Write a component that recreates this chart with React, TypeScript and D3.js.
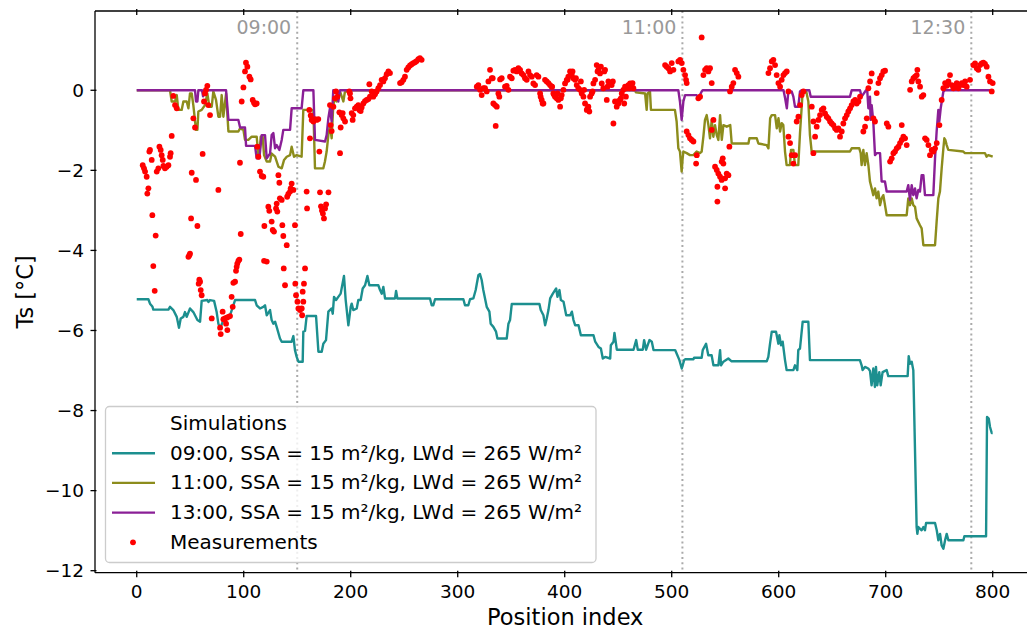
import React from 'react';
import * as d3 from 'd3';

// Axis ticks and reference times
const xTicks = [0, 100, 200, 300, 400, 500, 600, 700, 800];
const yTicks = [0, -2, -4, -6, -8, -10, -12];
const timeMarkers: { idx: number; label: string }[] = [
  { idx: 150, label: '09:00' },
  { idx: 510, label: '11:00' },
  { idx: 780, label: '12:30' },
];

const legendTitle = 'Simulations';
const legendLabels = [
  '09:00, SSA = 15 m²/kg, LWd = 265 W/m²',
  '11:00, SSA = 15 m²/kg, LWd = 265 W/m²',
  '13:00, SSA = 15 m²/kg, LWd = 265 W/m²',
];
const measurementLabel = 'Measurements';

// Simulated surface temperature, [position index, Ts °C]
const sim0900: [number, number][] = [
  [0,-5.22],[10.9,-5.22],[12.4,-5.33],[14.6,-5.4],[15.5,-5.48],[29.6,-5.48],[31.1,-5.41],[34.2,-5.49],[37.4,-5.66],[39.5,-5.93],[41.1,-5.7],[43.6,-5.66],[45.1,-5.54],[46.7,-5.66],[49.8,-5.45],[52.9,-5.54],[56.7,-5.74],[59.2,-5.78],[60.7,-5.26],[66,-5.24],[67,-5.29],[68.5,-5.24],[72.3,-5.26],[74.7,-5.54],[76.3,-5.83],[77.9,-5.95],[81,-5.74],[84.1,-5.67],[87.2,-5.62],[91.9,-5.24],[110.6,-5.24],[112.1,-5.37],[115.2,-5.45],[118.3,-5.41],[119.9,-5.37],[121.5,-5.62],[124.6,-5.49],[126.1,-5.74],[127.7,-5.83],[129.3,-5.78],[130.8,-5.91],[133.9,-6.2],[135.5,-6.28],[144.8,-6.28],[146.4,-6.14],[147.9,-6.49],[149.5,-6.66],[151.1,-6.78],[155.1,-6.78],[155.7,-6.03],[157.3,-6.01],[158.8,-5.64],[167.6,-5.64],[169.8,-6.53],[172.9,-6.53],[174.4,-6.33],[176.9,-6.24],[179.1,-5.53],[182.2,-5.45],[183.2,-5.58],[184.4,-5.16],[186.3,-5.24],[188.4,-5.16],[190.6,-5.08],[193.7,-4.64],[195.3,-5.24],[197.8,-5.87],[200,-5.41],[200.9,-5.33],[202.4,-5.49],[205.6,-5.45],[207.1,-5.24],[209.3,-5.24],[211.2,-4.95],[213.4,-4.87],[215.6,-4.64],[217.4,-4.87],[225.8,-4.87],[227.4,-4.99],[229,-5.08],[230.5,-4.91],[232.1,-5.2],[241.4,-5.2],[242.4,-5.01],[243.6,-5.2],[274.1,-5.2],[275.7,-5.37],[277.2,-5.37],[278.8,-5.22],[305.3,-5.22],[306.8,-5.37],[309.9,-5.37],[311.5,-5.22],[314.6,-5.2],[316.8,-4.99],[319.3,-4.62],[320.8,-4.59],[322.4,-4.74],[323.9,-4.99],[327.1,-5.41],[329.6,-5.53],[330.8,-5.83],[333.3,-5.91],[335.8,-6.03],[337.1,-6.2],[345.8,-6.2],[347.4,-5.83],[348.9,-5.74],[350.5,-5.34],[376.4,-5.34],[377.6,-5.49],[380.1,-5.62],[381.7,-5.87],[383.2,-5.7],[384.8,-5.49],[386.4,-5.2],[388.9,-5.08],[392,-4.95],[393.2,-5.16],[395.1,-4.99],[396.4,-5.24],[398.9,-5.28],[401.4,-5.62],[405.1,-5.62],[406.7,-5.53],[408.2,-5.74],[409.8,-5.87],[412.9,-5.87],[415.1,-6.12],[426.9,-6.12],[428.5,-6.28],[431.6,-6.41],[433.8,-6.45],[435.6,-6.7],[437.8,-6.66],[442.5,-6.7],[443.1,-6.37],[445.6,-6.28],[446.5,-6.06],[448.7,-6.48],[464.3,-6.48],[466.8,-6.24],[468.3,-6.48],[473,-6.48],[474.2,-6.24],[476.1,-6.48],[479.2,-6.24],[481.4,-6.28],[483,-6.49],[503.2,-6.49],[504.7,-6.58],[507.2,-6.74],[509.4,-6.95],[511.6,-6.74],[512.5,-6.72],[520.3,-6.72],[520.9,-6.68],[528,-6.68],[529,-6.49],[532.1,-6.33],[534.2,-6.62],[537.3,-6.62],[539,-6.87],[543.6,-6.87],[545.2,-6.49],[546.1,-6.87],[548.3,-6.78],[552.9,-6.7],[556,-6.77],[588.8,-6.77],[590.3,-6.66],[591.9,-6.33],[593.5,-6.03],[597.5,-6.03],[599.7,-6.33],[600.6,-6.12],[602.2,-6.37],[603.7,-6.28],[605.9,-6.74],[607.4,-6.99],[613.7,-6.99],[615.2,-6.87],[617.4,-6.99],[618.3,-6.49],[619.9,-6.45],[622.4,-5.78],[627.7,-5.78],[629.2,-6.74],[675.9,-6.74],[677.5,-6.87],[678.4,-6.99],[680.6,-6.91],[683.7,-6.95],[685.3,-7.01],[686.8,-7.37],[688.4,-6.95],[689.9,-7.41],[690.9,-6.91],[692.1,-7.37],[694,-7.04],[695.3,-7.37],[697.1,-7.04],[700.9,-6.99],[702.4,-7.14],[720.5,-7.14],[721.5,-6.64],[722.7,-6.83],[724.3,-6.78],[725.8,-6.99],[728.9,-10.91],[729.6,-11.08],[730.5,-10.91],[733.6,-10.99],[735.2,-10.91],[736.7,-10.99],[737.7,-10.81],[746.1,-10.81],[747.7,-10.99],[749.2,-11.24],[750.8,-11.08],[752.3,-11.37],[753.9,-11.45],[755.5,-11.24],[757,-11.08],[758.6,-11.24],[772.6,-11.24],[773.5,-11.14],[793.8,-11.14],[794.7,-8.16],[796.3,-8.2],[797.5,-8.41],[799.1,-8.56],[800,-8.56],
];

const sim1100: [number, number][] = [
  [0,0],[31.1,0],[32.7,-0.28],[35.8,-0.28],[37.4,-0.12],[38.9,-0.49],[42,-0.49],[43.6,-0.28],[46.7,-0.28],[48.3,-0.45],[49.8,-0.08],[51.4,-0.08],[52.9,-0.37],[55.4,-0.99],[56.7,-0.99],[57.6,-0.53],[60.7,-0.49],[63.8,-0.37],[66,-0.08],[67.9,-0.41],[70.1,-0.41],[71.6,-0.03],[74.1,-0.24],[76.3,-0.66],[77.9,-0.66],[79.4,-0.12],[81,-0.66],[83.5,-0.08],[85.7,-1.03],[95,-1.03],[96.6,-0.95],[99.7,-0.99],[101.2,-1.24],[104.3,-1.24],[107.5,-1.16],[112.1,-1.16],[113.7,-1.62],[114.6,-1.62],[115.9,-1.16],[117.7,-1.16],[119,-1.62],[121.5,-1.78],[124.6,-1.78],[126.1,-1.58],[129.3,-1.66],[132.4,-1.91],[135.5,-1.95],[137.7,-1.74],[140.2,-1.66],[143.3,-1.62],[144.8,-1.41],[147,-1.66],[149.5,-1.62],[154.1,-1.66],[155.7,-0.49],[165.1,-0.49],[166.6,-1.95],[174.4,-1.95],[175.9,-1.78],[177.5,-1.53],[179.1,-1.12],[180.6,-0.87],[182.2,-1.2],[183.7,-0.37],[185.3,-0.2],[186.9,-0.28],[188.4,-0.16],[190,-0.03],[193.1,-0.28],[194.5,-0.05],[197.8,0],[465.7,0],[466.5,-0.05],[475.1,-0.08],[476.6,-0.49],[477.5,-0.08],[479.7,-0.03],[480.6,-0.49],[482.2,-0.49],[503,-0.49],[504.6,-0.78],[506.2,-1.45],[507.7,-1.53],[509.3,-2.03],[510.2,-1.7],[510.9,-1.53],[514,-1.57],[517.1,-1.62],[520.2,-1.62],[523.3,-1.53],[526.4,-1.57],[528,-1.53],[529.6,-1.16],[531.1,-0.74],[532.7,-0.62],[534.3,-0.87],[535.8,-1.2],[537.4,-0.74],[538.9,-1.16],[540.5,-0.87],[542.1,-1.12],[543.6,-1.24],[545.2,-0.62],[546.8,-1.24],[548.3,-0.87],[551.4,-0.91],[554.7,-0.87],[556.1,-1.33],[571.7,-1.33],[572.6,-1.2],[579.5,-1.2],[581,-1.33],[588.8,-1.37],[590.4,-1.45],[592,-0.7],[593.5,-0.62],[596.6,-0.62],[598.2,-0.95],[599.8,-0.7],[601.3,-1.03],[602.8,-0.82],[604.3,-0.87],[605.9,-1.53],[607.4,-1.87],[610.5,-1.87],[611.5,-1.49],[613.7,-1.49],[615.2,-1.87],[618.3,-1.87],[619.9,-1.07],[621.4,-0.45],[622.4,-0.03],[625.5,0],[627.7,-0.28],[629.2,-1.12],[630.8,-1.53],[666.6,-1.53],[668.2,-1.45],[675.3,-1.45],[676.6,-1.57],[677.5,-1.87],[679.1,-1.49],[680.6,-1.87],[682.2,-1.57],[683.8,-1.87],[685.3,-2.28],[686.9,-2.45],[688.4,-2.62],[690,-2.45],[691.5,-2.7],[693.1,-2.53],[694.7,-2.87],[696.2,-2.7],[697.8,-2.62],[700.9,-3.12],[719.6,-3.12],[721.1,-2.7],[722.7,-2.87],[724.3,-2.7],[725.8,-2.87],[727.4,-2.91],[728.9,-3.2],[732,-3.37],[733.6,-3.45],[735.2,-3.87],[746.1,-3.87],[747.6,-3.28],[749.2,-2.7],[750.7,-2.53],[752.3,-1.95],[753.9,-1.45],[754.8,-1.2],[755.7,-1.24],[757,-1.37],[758.5,-1.49],[772.5,-1.53],[774.1,-1.57],[792.8,-1.57],[794.3,-1.66],[795.9,-1.62],[800,-1.66],
];

const sim1300: [number, number][] = [
  [0,0],[54.5,0],[55.4,-0.28],[56.7,-0.28],[57.6,0],[61,0],[62,-0.15],[63,0],[83.5,0],[85.7,-0.74],[95,-0.74],[96.6,-0.93],[101.2,-0.93],[102.2,-1.39],[110.6,-1.39],[112.1,-1.7],[114.6,-1.7],[116.8,-1.12],[119.9,-1.12],[121.5,-1.7],[124.6,-1.58],[126.1,-1.12],[127.7,-1.07],[129.3,-1.45],[130.8,-1.37],[133.3,-1.49],[135.5,-1.24],[137,-0.99],[143.3,-0.99],[144.8,-0.45],[154.1,-0.45],[155.7,0],[165.1,0],[166.6,-1.24],[176,-1.28],[177.5,-1.12],[179.1,-0.7],[180.6,-0.45],[182.2,-0.78],[183.7,0],[187.5,0],[188.4,-0.28],[190,0],[506.2,0],[507.7,-0.28],[509.3,-0.74],[510.9,-0.28],[512.5,-0.12],[523.3,-0.12],[524.9,-0.18],[526.4,-0.12],[528,-0.03],[528.9,0],[604.5,0],[606,-0.2],[607.6,-0.45],[609,-0.03],[612.1,-0.03],[613.7,-0.16],[615.2,-0.41],[618.3,-0.41],[619.9,-0.03],[621.4,0],[628.6,0],[629.9,-0.16],[666.6,-0.16],[668.2,0],[676,0],[677.5,-0.16],[681.6,0],[682.8,-0.03],[683.8,-0.45],[685.3,-0.16],[685.9,-0.74],[686.9,-0.37],[688.4,-0.78],[690,-1.62],[691.5,-1.57],[694.7,-1.57],[696.2,-2.28],[699.3,-2.28],[700.9,-2.53],[719.6,-2.53],[721.1,-2.37],[722.7,-2.74],[724.3,-2.37],[725.8,-2.62],[727.4,-2.45],[728.9,-2.7],[730.5,-2.49],[732,-2.53],[733.6,-2.12],[735.2,-2.12],[736.7,-2.62],[744.5,-2.62],[746.1,-1.7],[747.6,-1.03],[749.2,-0.49],[750.1,-0.78],[751.4,-0.45],[753.9,-0.03],[755.4,0],[800,0],
];

// Measured surface temperature, [position index, Ts °C]
const measurements: [number, number][] = [
  [5.6,-1.87],[6.8,-1.95],[7.8,-2.03],[9.3,-2.16],[10.9,-2.45],[9.9,-2.58],[12.4,-1.49],[11.8,-1.53],[14,-1.74],[14.6,-3.12],[17.7,-3.63],[15.5,-4.39],[16.8,-5.01],[21.2,-1.41],[22.4,-1.49],[23.3,-1.62],[24.3,-1.74],[24.9,-1.89],[26.4,-1.95],[28,-1.91],[29.6,-1.87],[18.7,-2.03],[20.2,-1.95],[31.1,-1.66],[31.7,-1.57],[32.7,-1.14],[34.2,-0.14],[35.8,-0.37],[37.4,-0.45],
  [48.3,-4.16],[49.2,-4.12],[49.8,-4.08],[50.8,-3.2],[51.4,-2.06],[52.9,-0.7],[54.5,-0.93],[55.4,-2.24],[56.7,-3.39],[57.9,-4.83],[58.5,-4.73],[59.2,-4.78],[59.8,-4.99],[60.7,-5.12],[61.6,-1.59],[62.9,-0.28],[63.8,-0.08],[64.8,0.01],[66,0.11],[66.9,-0.37],[68.5,-0.62],[70.1,-5.7],[76.3,-2.49],[77.9,-5.93],[78.5,-6.09],[80.3,-5.53],[81,-5.72],[82.5,-5.7],[83.5,-5.83],[84.1,-5.68],[84.7,-5.99],[85.7,-5.66],[87.2,-5.64],[88.7,-5.16],[89.7,-5.41],[90.3,-4.81],[91.9,-4.78],[92.8,-4.51],[93.4,-4.41],[94,-4.33],[95,-4.26],[95.9,-4.23],[97.2,-3.59],[96.5,-1.81],[98.1,-0.28],[99.7,0.07],[101.2,0.47],[102.1,0.69],[103.4,0.59],[105.3,0.34],[106.5,0.27],[108.4,-0.24],[109.6,-0.31],[110.6,-0.35],[112.1,-0.33],[112.7,-1.41],[113.7,-1.66],[115.2,-2.03],[116.8,-2.14],[118.3,-2.16],[119,-4.26],[119.3,-3.39],[121.5,-4.28],[123,-2.91],[123.9,-3.01],[126.1,-3.28],[127.1,-3.49],[128.3,-3.53],[130.2,-2.95],[130.8,-2.83],[131.4,-3.03],[132.4,-2.12],[133.3,-2.31],[133.8,-2.7],[135.5,-2.74],[136.1,-3.37],[137,-3.64],[137.4,-4.45],[138.6,-4.87],[140.2,-3.87],[140.6,-2.66],[141.7,-2.59],[143.3,-2.53],[143.9,-2.45],[144.8,-2.33],[146.4,-2.49],[147.9,-3.37],[148.2,-4.83],[148.9,-5.12],[150.2,-5.28],[151.1,-5.45],[152.6,-5.49],[154.2,-5.45],[154.6,-5.62],[155.1,-5.03],[155.7,-5.28],[156.3,-4.83],[157.3,-4.45],[158.8,-2.53],[159.2,-2.95],
  [161.3,-0.49],[162.6,-0.63],[163.5,-0.74],[165.1,-0.78],[166.6,-0.72],[168.2,-0.74],[169.7,-0.72],[161.9,-1.2],[170.7,-1.53],[171.3,-2.55],[172.2,-2.9],[173.1,-3.0],[174,-3.08],[175,-3.2],[176,-2.95],[177,-2.85],[179.2,-2.55],[181.3,-0.87],[182.2,-1.02],[180.6,-0.37],[183.8,-0.41],[185.3,-0.2],[186.2,-0.03],[187.5,-0.16],[189.4,-0.55],[190,-1.57],[190.6,-0.93],[191.5,-0.62],[192.5,-0.57],[193.1,-0.7],[194.7,-0.78],[198.7,-0.03],[199.3,-0.08],[199.8,-0.2],[200.9,-0.57],[201.8,-0.74],[202.4,-0.62],[204,-0.45],[205.6,-0.41],[207.1,-0.37],[208.1,-0.49],[209.3,-0.52],[210.2,-0.43],[211.8,-0.33],[213.3,-0.27],[214.9,-0.24],[216.5,-0.22],[218,-0.16],[217.4,0.15],[219.6,-0.03],[221.1,-0.16],[222.7,-0.1],[224.2,-0.03],[225.8,0.05],[227.4,0.13],[228.9,0.26],[230.5,0.22],[232,0.3],[233.6,0.4],[235.2,0.47],[236.7,0.43],[246.1,0.18],[247.6,0.2],[249.2,0.26],[250.7,0.34],[252.3,0.51],[253.8,0.57],[255.4,0.62],[257,0.65],[258.5,0.68],[260.1,0.7],[261.6,0.73],[263.2,0.78],[264.7,0.8],[266.3,0.76],
  [317.8,0.09],[319.3,0.13],[320.9,0.01],[322.4,-0.12],[324,0.05],[325.5,0.05],[327.1,-0.03],[328.7,0.22],[330.2,0.51],[331.8,0.3],[332.7,0.3],[333.3,-0.33],[334.9,-0.37],[335.5,-0.89],[336.5,-0.41],[338,-0.08],[338.9,-0.16],[339.6,0.27],[341.1,0.3],[344.2,0.09],[345.8,0.11],[347.4,0.01],[348.9,0.34],[350.5,0.3],[352,0.49],[353.6,0.51],[355.2,0.47],[356.7,0.55],[358.3,0.51],[359.8,0.42],[361.4,0.38],[362.9,0.3],[364.5,0.26],[366.1,0.47],[367.6,0.38],[369.2,0.34],[370.7,0.17],[372.3,0.13],[373.8,0.38],[375.4,0.34],[377,-0.08],[377.5,-0.16],[378.5,-0.24],[379.4,-0.33],[380.1,-0.33],[381.6,0.26],[383.2,0.22],[384.8,0.18],[386.3,0.13],[387.9,0.09],[389.4,-0.08],[391,-0.16],[392.5,-0.2],[394.1,-0.24],[395.7,-0.41],[397.2,-0.12],[398.8,0.01],[400.3,0.17],[401.9,0.26],[403.4,0.34],[405,0.47],[406.6,0.38],[408.1,0.3],[409.7,0.26],[411.2,0.13],[412.8,0.05],[414.3,0.01],[415.9,-0.08],[417.5,-0.16],[419,-0.33],[420.6,-0.49],[422.1,-0.41],[423.7,-0.16],[425.2,-0.08],[426.8,0.17],[428.4,0.26],[429.9,0.63],[431.5,0.51],[433,0.42],[434.6,0.17],[436.1,0.05],[437.7,0.51],[439.3,-0.24],[440.8,0.22],[442.4,0.17],[443.9,0.13],[445.5,-0.83],[447,-0.28],[448.6,-0.41],[450.2,-0.33],[451.7,-0.24],[453.3,-0.08],[454.8,0.01],[456.4,0.09],[458,0.05],[459.5,0.13],[461.1,0.17],[462.6,0.09],[464.2,0.05],
  [388.2,0.09],[390.2,-0.12],[393.3,-0.08],[396.4,-0.2],[402.7,0.26],[407.3,0.47],[410.5,0.3],[415.1,0.22],[418.2,0.01],[421.4,-0.45],[423,-0.53],[426,-0.03],[430.7,0.47],[433.8,0.59],[437,0.47],[440,0.09],[445,0.22],[449.4,-0.28],[452.5,-0.2],[455.6,-0.33],[457.2,-0.16],[460.3,0.05],[463.4,0.18],
  [493.8,0.63],[495.3,0.59],[496.9,0.55],[498.5,0.47],[500,0.68],[501.6,0.51],[506.2,0.72],[507.8,0.76],[509.4,0.68],[510.9,0.51],[512.5,0.38],[513.4,0.26],[514,0.18],[514,-1.03],[515.6,-1.12],[517.1,-1.2],[518.7,-1.24],[520.3,-1.28],[522.8,-1.83],[523.4,-1.62],[524.9,-0.2],[526.5,-0.16],[528,1.32],[529.6,0.38],[531.2,0.51],[532.7,0.55],[534.3,0.47],[535.8,0.55],[537.4,0.18],[537.4,-0.99],[539,-0.74],[540.5,-1.91],[542.1,-1.99],[542.7,-2.41],[542.7,-2.78],[543.6,-2.08],[545.2,-2.16],[546.7,-2.24],[546.7,-1.78],[547.7,-1.7],[548.3,-1.83],[549.9,-2.2],[549.9,-2.45],[551.4,-2.08],[553,-2.12],[553.9,-1.41],[554.5,-0.03],[556.1,0.09],[557.6,0.18],[559.2,0.51],[560.8,0.43],[562.3,0.34],
  [590.4,0.43],[591.9,0.55],[593.5,0.72],[595,0.76],[596.6,0.63],[598.1,0.38],[599.7,0.18],[601.3,0.09],[602.8,0.26],[604.4,0.38],[605.9,0.43],[607.5,0.47],[609.1,-0.03],[609.1,-1.16],[610.6,-1.32],[612.2,-1.62],[613.7,-1.83],[615.3,-1.62],[616.8,-0.78],[618.4,-0.66],[620,-0.37],[621.5,-0.12],[623.1,-0.03],
  [630.9,-0.41],[632.4,-0.78],[632.4,-1.57],[634,-1.16],[635.5,-0.91],[637.1,-0.74],[638.6,-0.62],[640.2,-0.49],[641.8,-0.45],[643.3,-0.58],[644.9,-0.66],[646.4,-0.7],[648,-0.78],[649.5,-0.83],[651.1,-0.87],[652.7,-0.95],[654.2,-0.99],[655.8,-0.95],[657.3,-1.16],[658.9,-1.03],[660.4,-0.83],[662,-0.7],[663.6,-0.62],[665.1,-0.53],[666.7,-0.45],[668.2,-0.37],[669.8,-0.28],[671.4,-0.24],[672.9,-0.33],[674.5,-0.28],[676,-0.16],[679.1,-1.03],[680.7,-0.91],[682.3,-0.7],[683.8,0.05],[685.4,0.22],[686.9,0.42],[688.5,-0.7],[690,-0.78],[691.6,-0.07],[693.2,0.18],[694.7,0.3],[696.3,0.38],[697.8,0.47],[699.4,0.49],
  [701,-0.83],[702.5,-0.91],[704.1,-1.78],[705.6,-1.7],[707.2,-1.57],[708.7,-1.53],[710.3,-1.45],[711.9,-1.41],[713.4,-1.32],[715,-1.24],[715,-0.87],[716.5,-1.16],[718.1,-1.2],[719.6,-1.37],[722.8,0.01],[724.3,0.22],[725.9,0.3],[727.4,0.34],[729,0.38],[729.6,0.51],[730.5,0.22],[732.1,0.09],[733.7,-0.16],[735.2,-0.12],[736.8,-1.2],[738.3,-1.24],[739.9,-1.37],[741.4,-1.62],[743,-1.49],[744.6,-1.53],[746.1,-1.45],[747.7,-1.32],[750.2,-0.87],[752.3,-0.24],[753.9,0.05],[755.5,0.18],[757,0.11],[758.6,0.22],[760.1,0.38],[761.7,0.13],[763.3,0.05],[764.8,0.09],[766.4,0.18],[767.9,0.05],[769.5,0.13],[771.1,0.18],[772.6,0.13],[774.2,0.22],[775.7,0.09],[778.8,0.26],[781.9,0.63],[783.5,0.67],[785.1,0.55],[786.6,0.51],[788.2,0.63],[789.7,0.67],[791.3,0.69],[792.8,0.66],[794.4,0.59],[796,0.34],[797.5,0.22],[799.1,-0.03],[800,0.18],
];

const seriesColors = ['#1c8f8f', '#8c8c1c', '#8a1f96'];
const FONT = 'DejaVu Sans, sans-serif';

export default function App() {
  const width = 1027;
  const height = 629;

  const x = d3.scaleLinear().domain([-39, 840]).range([95, 1035.5]);
  const y = d3.scaleLinear().domain([-12.05, 1.98]).range([572.7, 11]);

  const [left, right] = x.range();
  const [bottom, top] = y.range();

  const line = d3
    .line<[number, number]>()
    .x((d) => x(d[0]))
    .y((d) => y(d[1]));

  const series = [sim0900, sim1100, sim1300];

  const fmt = (v: number) => (v < 0 ? '\u2212' + Math.abs(v) : String(v));

  const legendX = 105.5;
  const legendY = 406.5;
  const rowH = 29.7;
  const firstBaseline = 430;

  return (
    <svg
      width={width}
      height={height}
      style={{ position: 'absolute', left: 0, top: 0, display: 'block', background: '#fff' }}
      fontFamily={FONT}
    >
      <rect x={0} y={0} width={width} height={height} fill="#fff" />

      {/* time reference lines */}
      {timeMarkers.map((m) => (
        <g key={m.label}>
          <line
            x1={x(m.idx)}
            x2={x(m.idx)}
            y1={top}
            y2={bottom}
            stroke="#aaaaaa"
            strokeWidth={2}
            strokeDasharray="2 3.2"
          />
          <text x={x(m.idx) - 6} y={33.5} fontSize={19} fill="#999999" textAnchor="end">
            {m.label}
          </text>
        </g>
      ))}

      {/* simulations */}
      {series.map((s, i) => (
        <path
          key={i}
          d={line(s) || ''}
          fill="none"
          stroke={seriesColors[i]}
          strokeWidth={2.4}
          strokeLinejoin="round"
        />
      ))}

      {/* measurements */}
      {measurements.map((d, i) => (
        <circle key={i} cx={x(d[0])} cy={y(d[1])} r={2.9} fill="#ff0000" />
      ))}

      {/* spines */}
      <g stroke="#000" strokeWidth={1.3} fill="none">
        <line x1={left} x2={left} y1={top} y2={bottom} />
        <line x1={right} x2={right} y1={top} y2={bottom} />
        <line x1={left} x2={right} y1={top} y2={top} />
        <line x1={left} x2={right} y1={bottom} y2={bottom} />
      </g>

      {/* x ticks (bottom and top) */}
      {xTicks.map((t) => (
        <g key={'x' + t}>
          <line x1={x(t)} x2={x(t)} y1={bottom - 2} y2={bottom + 4.5} stroke="#000" strokeWidth={1.3} />
          <line x1={x(t)} x2={x(t)} y1={top - 2} y2={top + 4} stroke="#000" strokeWidth={1.3} />
          <text x={x(t)} y={598} fontSize={18.5} textAnchor="middle" fill="#000">
            {fmt(t)}
          </text>
        </g>
      ))}

      {/* y ticks */}
      {yTicks.map((t) => (
        <g key={'y' + t}>
          <line x1={left - 4.5} x2={left + 1.5} y1={y(t)} y2={y(t)} stroke="#000" strokeWidth={1.3} />
          <text x={84} y={y(t) + 6.6} fontSize={18.5} textAnchor="end" fill="#000">
            {fmt(t)}
          </text>
        </g>
      ))}

      {/* axis labels */}
      <text x={(left + right) / 2} y={625} fontSize={22.5} textAnchor="middle" fill="#000">
        Position index
      </text>
      <text
        transform={`translate(33, ${(top + bottom) / 2}) rotate(-90)`}
        fontSize={22.5}
        textAnchor="middle"
        fill="#000"
      >
        Ts [°C]
      </text>

      {/* legend */}
      <g>
        <rect
          x={legendX}
          y={legendY}
          width={490.5}
          height={156}
          rx={4}
          fill="#fff"
          fillOpacity={0.8}
          stroke="#cccccc"
          strokeWidth={1.3}
        />
        <text x={170} y={firstBaseline} fontSize={20} fill="#000">
          {legendTitle}
        </text>
        {legendLabels.map((lab, i) => {
          const base = firstBaseline + rowH * (i + 1);
          return (
            <g key={lab}>
              <line x1={112} x2={155} y1={base - 6.5} y2={base - 6.5} stroke={seriesColors[i]} strokeWidth={2.4} />
              <text x={170} y={base} fontSize={20} fill="#000">
                {lab}
              </text>
            </g>
          );
        })}
        <circle cx={133} cy={firstBaseline + rowH * 4 - 6.5} r={2.9} fill="#ff0000" />
        <text x={170} y={firstBaseline + rowH * 4} fontSize={20} fill="#000">
          {measurementLabel}
        </text>
      </g>
    </svg>
  );
}
